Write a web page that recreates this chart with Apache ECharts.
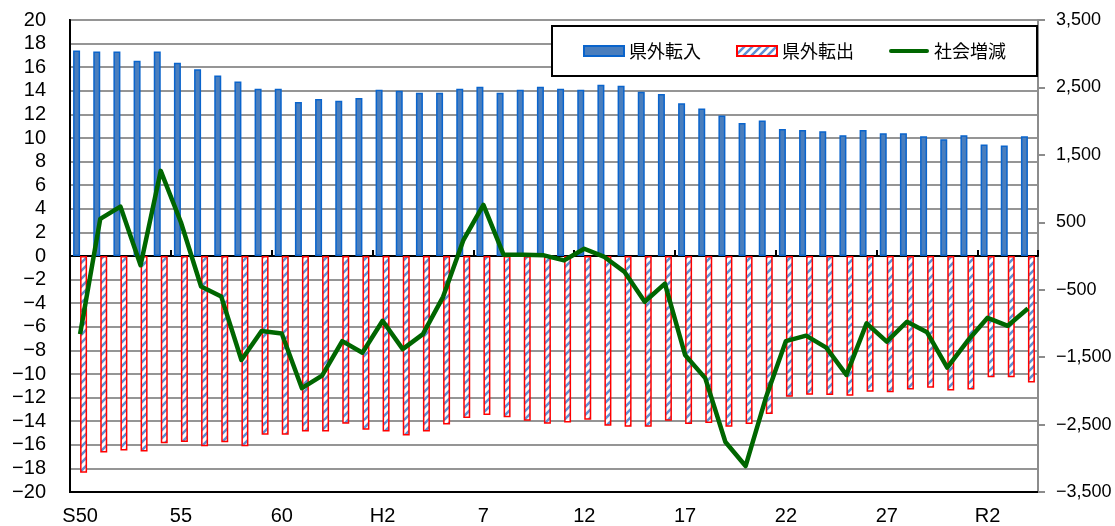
<!DOCTYPE html>
<html>
<head>
<meta charset="utf-8">
<script src="https://cdn.jsdelivr.net/npm/echarts@6/dist/echarts.min.js"></script>
<style>
  html, body { margin: 0; padding: 0; background: #fff; }
  #chart { width: 1115px; height: 526px; }
</style>
</head>
<body>
<div id="chart"></div>
<script>
// 年次（S50〜R4）
const years = [
  "S50", "51", "52", "53", "54", "55", "56", "57", "58", "59",
  "60", "61", "62", "63", "H1", "H2", "3", "4", "5", "6",
  "7", "8", "9", "10", "11", "12", "13", "14", "15", "16",
  "17", "18", "19", "20", "21", "22", "23", "24", "25", "26",
  "27", "28", "29", "30", "R1", "R2", "R3", "R4"
];

// 県外転入（千人）
const inflow = [
  17.41, 17.32, 17.32, 16.54, 17.32, 16.37, 15.83, 15.30, 14.79, 14.18,
  14.18, 13.05, 13.30, 13.16, 13.38, 14.09, 14.01, 13.84, 13.84, 14.18,
  14.35, 13.84, 14.09, 14.35, 14.18, 14.09, 14.51, 14.43, 13.92, 13.72,
  12.94, 12.51, 11.90, 11.27, 11.48, 10.77, 10.68, 10.57, 10.24, 10.68,
  10.40, 10.40, 10.15, 9.90, 10.24, 9.45, 9.37, 10.15
];

// 県外転出（千人、マイナス表示）
const outflow = [
  -18.37, -16.66, -16.49, -16.57, -15.87, -15.76, -16.12, -15.78, -16.12, -15.14,
  -15.14, -14.88, -14.88, -14.21, -14.72, -14.88, -15.22, -14.88, -14.29, -13.73,
  -13.48, -13.67, -13.96, -14.21, -14.10, -13.87, -14.38, -14.46, -14.46, -13.96,
  -14.24, -14.15, -14.46, -14.24, -13.39, -11.93, -11.76, -11.79, -11.85, -11.51,
  -11.54, -11.31, -11.17, -11.39, -11.31, -10.27, -10.27, -10.72
];

// 社会増減（人、右軸）
const netChange = [
  -1158, 551, 733, -138, 1263, 500, -453, -602, -1542, -1113,
  -1148, -1960, -1773, -1262, -1434, -961, -1381, -1158, -606, 231,
  758, 20, 20, 10, -65, 108, -14, -236, -679, -410,
  -1468, -1811, -2758, -3115, -2107, -1262, -1181, -1358, -1764, -1000,
  -1271, -975, -1132, -1654, -1262, -917, -1035, -779
];

// 斜線ハッチ（県外転出の塗り）
function makeHatch() {
  const c = document.createElement("canvas");
  c.width = 8;
  c.height = 8;
  const g = c.getContext("2d");
  g.fillStyle = "#ffffff";
  g.fillRect(0, 0, 8, 8);
  g.strokeStyle = "#5f8fd2";
  g.lineWidth = 2.5;
  g.beginPath();
  g.moveTo(0, 8); g.lineTo(8, 0);
  g.moveTo(-4, 4); g.lineTo(4, -4);
  g.moveTo(4, 12); g.lineTo(12, 4);
  g.stroke();
  return c;
}

function minus(s, neg) {
  return neg ? "\u2212" + s : s;
}

const FONT = '"Liberation Sans", Arial, sans-serif';
const JP = '"Noto Sans CJK JP", sans-serif';
// 凡例の線アイコン（丸端の太線）
const LINE_ICON = "path://M2,0H38A2,2 0 0 1 38,4H2A2,2 0 0 1 2,0Z";

const chart = echarts.init(document.getElementById("chart"), null, { renderer: "canvas" });

chart.setOption({
  animation: false,
  textStyle: { fontFamily: FONT, color: "#000" },
  grid: {
    left: 70,
    right: 77,
    top: 20,
    bottom: 33,
    show: true,
    borderColor: "#000",
    borderWidth: 2,
    backgroundColor: "#fff",
  },
  legend: {
    left: 552,
    top: 26,
    padding: [16, 31],
    itemGap: 35,
    itemWidth: 40,
    itemHeight: 10,
    backgroundColor: "#fff",
    borderColor: "#000",
    borderWidth: 2,
    borderRadius: 0,
    textStyle: { fontFamily: JP, fontSize: 18, color: "#000" },
    data: [
      { name: "県外転入", icon: "rect" },
      { name: "県外転出", icon: "rect" },
      { name: "社会増減", icon: LINE_ICON, itemStyle: { color: "#006600", borderWidth: 0 } },
    ],
  },
  xAxis: [
    {
      // 下端のラベル用
      type: "category",
      data: years,
      position: "bottom",
      boundaryGap: true,
      axisLine: { onZero: false, lineStyle: { color: "#000", width: 2 } },
      axisTick: { show: false },
      axisLabel: {
        interval: 4,
        fontSize: 20,
        margin: 14,
        color: "#000",
        fontFamily: FONT,
      },
      splitLine: { show: false },
    },
    {
      // ゼロ線と目盛
      type: "category",
      data: years,
      position: "bottom",
      boundaryGap: true,
      axisLine: { onZero: true, lineStyle: { color: "#000", width: 2 } },
      axisTick: {
        show: true,
        interval: 4,
        inside: true,
        length: 6,
        lineStyle: { color: "#000", width: 2 },
      },
      axisLabel: { show: false },
      splitLine: { show: false },
    },
  ],
  yAxis: [
    {
      type: "value",
      min: -20,
      max: 20,
      interval: 2,
      position: "left",
      axisLine: { show: true, lineStyle: { color: "#000", width: 2 } },
      axisTick: { show: false },
      axisLabel: {
        fontSize: 20,
        margin: 24,
        color: "#000",
        formatter: (v) => minus(String(Math.abs(v)), v < 0),
      },
      splitLine: { show: true, lineStyle: { color: "#959595", width: 2 } },
    },
    {
      type: "value",
      min: -3500,
      max: 3500,
      interval: 500,
      position: "right",
      axisLine: { show: true, lineStyle: { color: "#8c8c8c", width: 2 } },
      axisTick: { show: false },
      axisLabel: {
        fontSize: 18,
        margin: 18,
        color: "#000",
        formatter: (v) =>
          Math.abs(v) % 1000 === 500
            ? minus(Math.abs(v).toLocaleString("en-US"), v < 0)
            : "",
      },
      splitLine: { show: false },
    },
    {
      // 右軸の目盛（1,000人ごと）
      type: "value",
      min: 0,
      max: 7,
      interval: 1,
      position: "right",
      axisLine: { show: false },
      axisTick: { show: true, length: 7, lineStyle: { color: "#8c8c8c", width: 2 } },
      axisLabel: { show: false },
      splitLine: { show: false },
    },
  ],
  series: [
    {
      name: "県外転入",
      type: "bar",
      xAxisIndex: 0,
      yAxisIndex: 0,
      data: inflow,
      barWidth: 7,
      barGap: "0%",
      itemStyle: { color: "#4a7ebd", borderColor: "#0a64cc", borderWidth: 1.5 },
    },
    {
      name: "県外転出",
      type: "bar",
      xAxisIndex: 0,
      yAxisIndex: 0,
      data: outflow,
      barWidth: 7,
      barGap: "0%",
      itemStyle: {
        color: { image: makeHatch(), repeat: "repeat" },
        borderColor: "#ff0000",
        borderWidth: 1.5,
      },
    },
    {
      name: "社会増減",
      type: "line",
      xAxisIndex: 0,
      yAxisIndex: 1,
      data: netChange,
      symbol: "none",
      z: 5,
      lineStyle: { color: "#006600", width: 4.5, join: "round" },
      itemStyle: { color: "#006600" },
    },
  ],
});
</script>
</body>
</html>
